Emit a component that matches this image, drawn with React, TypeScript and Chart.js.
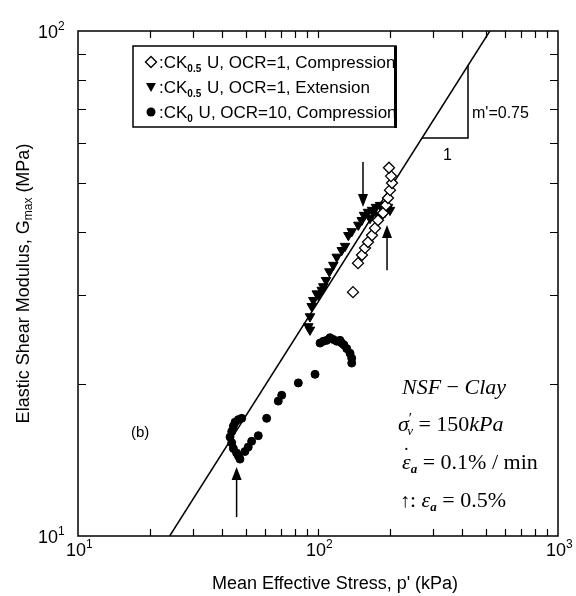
import React, { useEffect, useRef } from 'react';
import { Chart, registerables } from 'chart.js';
Chart.register(...registerables);

// ---- Data (p' in kPa, Gmax in MPa) ----
// CK0.5U, OCR=1, Compression (open diamonds)
const compP = [139.9, 146.8, 152.5, 157.0, 161.6, 167.9, 172.8, 177.8, 186.6, 192.0, 195.7, 199.5, 203.4, 201.5, 197.6];
const compG = [30.4, 34.7, 36.0, 37.2, 38.2, 39.4, 40.7, 42.2, 43.6, 45.2, 46.7, 48.4, 50.0, 51.6, 53.6];
// CK0.5U, OCR=1, Extension (filled down triangles)
const extP = [91.1, 92.6, 92.6, 94.1, 95.6, 98.8, 100.3, 103.6, 105.2, 108.0, 111.5, 115.8, 119.7, 125.6, 129.6, 133.8, 138.2, 147.2, 152.1, 155.5, 161.6, 164.7, 167.9, 174.4, 177.8, 181.3, 188.4, 190.2, 195.7, 199.5];
const extG = [26.0, 25.6, 27.2, 28.5, 29.3, 30.2, 30.0, 30.7, 31.2, 32.1, 33.4, 34.4, 35.7, 36.8, 37.5, 39.4, 40.1, 41.3, 42.2, 43.2, 43.8, 42.6, 44.2, 44.8, 43.2, 45.2, 45.2, 43.8, 44.8, 44.2];
// CK0U, OCR=10, Compression (filled circles)
const ocrP = [45.1, 46.6, 48.1, 44.4, 43.7, 43.0, 43.7, 44.4, 45.8, 46.6, 47.3, 49.6, 51.2, 52.9, 56.4, 61.1, 68.3, 70.6, 82.8, 97.2, 102.0, 105.2, 108.7, 112.2, 115.8, 119.7, 123.5, 125.6, 128.3, 131.7, 136.0, 138.2, 138.2];
const ocrG = [16.8, 17.0, 17.1, 16.5, 16.1, 15.7, 15.3, 14.9, 14.6, 14.4, 14.2, 14.7, 15.0, 15.4, 15.8, 17.1, 18.5, 19.0, 20.1, 20.9, 24.1, 24.3, 24.4, 24.7, 24.5, 24.3, 24.4, 24.1, 23.9, 23.5, 23.0, 22.5, 22.0];
// Fitted line (m' = 0.75) and slope triangle
const lineP = [24.1, 520];
const lineG = [10, 100];
const triP = [271.4, 421.7, 421.7];
const triG = [61.4, 61.4, 85.5];
// Arrows marking eps_a = 0.5%
const arrowP = [154, 193.9, 45.8];
const arrowFromG = [55.0, 33.6, 10.9];
const arrowToG = [44.8, 41.3, 13.7];
// Axis ticks
const xDecades = [10, 100, 1000];
const yDecades = [10, 100];
const xExp = ['1', '2', '3'];
const yExp = ['1', '2'];
const minorMult = [2, 3, 4, 5, 6, 7, 8, 9];

const SANS = '"Liberation Sans", Arial, sans-serif';
const SERIF = '"Liberation Serif", "Times New Roman", serif';

type Seg = { t: string; f: string; dy?: number; dx?: number };
function rich(ctx: CanvasRenderingContext2D, x: number, y: number, segs: Seg[]) {
  let cx = x;
  for (const s of segs) {
    ctx.font = s.f;
    ctx.fillText(s.t, cx + (s.dx || 0), y + (s.dy || 0));
    cx += ctx.measureText(s.t).width + (s.dx || 0);
  }
  return cx;
}
function richWidth(ctx: CanvasRenderingContext2D, segs: Seg[]) {
  let w = 0;
  for (const s of segs) { ctx.font = s.f; w += ctx.measureText(s.t).width + (s.dx || 0); }
  return w;
}

const toPts = (xs: number[], ys: number[]) => xs.map((v, i) => ({ x: v, y: ys[i] }));

export default function App() {
  const ref = useRef<HTMLCanvasElement>(null);
  useEffect(() => {
    const canvas = ref.current!;
    const overlay = {
      id: 'overlay',
      afterDraw(chart: any) {
        const { ctx, chartArea: a, scales } = chart;
        const xs = scales.x, ys = scales.y;
        ctx.save();
        ctx.fillStyle = '#000';
        ctx.strokeStyle = '#000';
        // frame
        ctx.lineWidth = 1.5;
        ctx.strokeRect(a.left, a.top, a.right - a.left, a.bottom - a.top);
        // ticks
        ctx.lineWidth = 1.2;
        ctx.beginPath();
        for (let d = 0; d < xDecades.length - 1; d++) {
          const vals = minorMult.map(m => m * xDecades[d]);
          if (d > 0) vals.unshift(xDecades[d]);
          for (const v of vals) {
            const px = Math.round(xs.getPixelForValue(v)) + 0.5;
            ctx.moveTo(px, a.bottom); ctx.lineTo(px, a.bottom - 7);
            ctx.moveTo(px, a.top); ctx.lineTo(px, a.top + 7);
          }
        }
        for (const m of minorMult) {
          const py = Math.round(ys.getPixelForValue(m * 10)) + 0.5;
          ctx.moveTo(a.left, py); ctx.lineTo(a.left + 8, py);
          ctx.moveTo(a.right, py); ctx.lineTo(a.right - 8, py);
        }
        ctx.stroke();
        // tick labels
        ctx.textAlign = 'left';
        ctx.textBaseline = 'alphabetic';
        xDecades.forEach((v, i) => {
          const px = xs.getPixelForValue(v);
          ctx.font = `18px ${SANS}`;
          const w = ctx.measureText('10').width;
          ctx.fillText('10', px - w / 2 - 2, 556);
          ctx.font = `12px ${SANS}`;
          ctx.fillText(xExp[i], px + w / 2 - 2, 548);
        });
        yDecades.forEach((v, i) => {
          const py = ys.getPixelForValue(v);
          ctx.font = `18px ${SANS}`;
          const w = ctx.measureText('10').width;
          ctx.fillText('10', 58 - w, py + 7);
          ctx.font = `12px ${SANS}`;
          ctx.fillText(yExp[i], 58, py - 1);
        });
        // axis titles
        const xt: Seg[] = [{ t: "Mean Effective Stress, p' (kPa)", f: `18px ${SANS}` }];
        rich(ctx, 335 - richWidth(ctx, xt) / 2, 589, xt);
        const yt: Seg[] = [
          { t: 'Elastic Shear Modulus, G', f: `18px ${SANS}` },
          { t: 'max', f: `12px ${SANS}`, dy: 3 },
          { t: ' (MPa)', f: `18px ${SANS}` },
        ];
        ctx.save();
        ctx.translate(29, (a.top + a.bottom) / 2);
        ctx.rotate(-Math.PI / 2);
        rich(ctx, -richWidth(ctx, yt) / 2, 0, yt);
        ctx.restore();
        // arrows
        ctx.lineWidth = 1.5;
        for (let i = 0; i < arrowP.length; i++) {
          const px = xs.getPixelForValue(arrowP[i]);
          const y1 = ys.getPixelForValue(arrowFromG[i]);
          const y2 = ys.getPixelForValue(arrowToG[i]);
          const dir = Math.sign(y2 - y1);
          const hl = 13, hw = 5;
          ctx.beginPath();
          ctx.moveTo(px, y1); ctx.lineTo(px, y2 - dir * hl);
          ctx.stroke();
          ctx.beginPath();
          ctx.moveTo(px, y2);
          ctx.lineTo(px - hw, y2 - dir * hl);
          ctx.lineTo(px + hw, y2 - dir * hl);
          ctx.closePath();
          ctx.fill();
        }
        // legend box
        ctx.lineWidth = 1.5;
        ctx.strokeRect(133, 46, 263, 81);
        ctx.fillRect(394, 46, 3, 82);
        const lf = `17px ${SANS}`, sf = `bold 10px ${SANS}`;
        const rows: Seg[][] = [
          [{ t: ':CK', f: lf }, { t: '0.5', f: sf, dy: 4 }, { t: ' U, OCR=1, Compression', f: lf, dx: 1 }],
          [{ t: ':CK', f: lf }, { t: '0.5', f: sf, dy: 4 }, { t: ' U, OCR=1, Extension', f: lf, dx: 1 }],
          [{ t: ':CK', f: lf }, { t: '0', f: sf, dy: 4 }, { t: ' U, OCR=10, Compression', f: lf, dx: 1 }],
        ];
        const rowY = [62, 87, 112];
        rows.forEach((r, i) => rich(ctx, 159, rowY[i] + 6, r));
        // legend markers
        const mx = 151;
        ctx.lineWidth = 1.4;
        ctx.beginPath();
        ctx.moveTo(mx, rowY[0] - 5.5); ctx.lineTo(mx + 5.5, rowY[0]); ctx.lineTo(mx, rowY[0] + 5.5); ctx.lineTo(mx - 5.5, rowY[0]); ctx.closePath();
        ctx.fillStyle = '#fff'; ctx.fill(); ctx.stroke();
        ctx.fillStyle = '#000';
        ctx.beginPath();
        ctx.moveTo(mx - 5, rowY[1] - 4); ctx.lineTo(mx + 5, rowY[1] - 4); ctx.lineTo(mx, rowY[1] + 5); ctx.closePath(); ctx.fill();
        ctx.beginPath(); ctx.arc(mx, rowY[2], 4.5, 0, Math.PI * 2); ctx.fill();
        // slope annotation
        ctx.font = `16px ${SANS}`;
        ctx.fillText("m'=0.75", 472, 118);
        ctx.fillText('1', 443, 160);
        // (b)
        ctx.font = `15px ${SANS}`;
        ctx.fillText('(b)', 131, 437);
        // italic block
        const it = `italic 22px ${SERIF}`, up = `22px ${SERIF}`, sm = `italic 13px ${SERIF}`, smb = `italic bold 13px ${SERIF}`;
        rich(ctx, 402, 394, [{ t: 'NSF', f: it }, { t: ' \u2212 ', f: up }, { t: 'Clay', f: it }]);
        rich(ctx, 398, 431, [{ t: '\u03C3', f: it }, { t: '\u2032', f: `15px ${SERIF}`, dy: -8, dx: 0 }, { t: 'v', f: sm, dy: 4, dx: -5 }, { t: ' = 150', f: up }, { t: 'kPa', f: it }]);
        const e1x = 402;
        const endE = rich(ctx, e1x, 469, [{ t: '\u03B5', f: it }]);
        ctx.font = `bold 14px ${SERIF}`;
        ctx.fillText('\u02D9', e1x + 2, 458);
        rich(ctx, endE, 469, [{ t: 'a', f: smb, dy: 4 }, { t: ' = 0.1% / min', f: up }]);
        rich(ctx, 400, 507, [{ t: '\u2191', f: `20px ${SERIF}` }, { t: ': ', f: up }, { t: '\u03B5', f: it }, { t: 'a', f: smb, dy: 4 }, { t: ' = 0.5%', f: up }]);
        ctx.restore();
      },
    };
    const chart = new Chart(canvas, {
      type: 'scatter',
      data: {
        datasets: [
          { label: 'comp', data: toPts(compP, compG), pointStyle: 'rectRot', pointRadius: 5.5, pointBorderColor: '#000', pointBackgroundColor: '#fff', pointBorderWidth: 1.3, order: 1 } as any,
          { label: 'ext', data: toPts(extP, extG), pointStyle: 'triangle', pointRotation: 180, pointRadius: 5.5, pointBorderColor: '#000', pointBackgroundColor: '#000', pointBorderWidth: 1, order: 2 },
          { label: 'ocr', data: toPts(ocrP, ocrG), pointStyle: 'circle', pointRadius: 4, pointBorderColor: '#000', pointBackgroundColor: '#000', pointBorderWidth: 1, order: 3 },
          { label: 'fit', data: toPts(lineP, lineG), showLine: true, pointRadius: 0, borderColor: '#000', borderWidth: 1.5, order: 4 },
          { label: 'slope', data: toPts(triP, triG), showLine: true, pointRadius: 0, borderColor: '#000', borderWidth: 1.5, order: 5 },
        ],
      },
      options: {
        animation: false,
        responsive: false,
        devicePixelRatio: 1,
        events: [],
        layout: { padding: { left: 78, right: 18, top: 31, bottom: 60 } },
        plugins: { legend: { display: false }, tooltip: { enabled: false } },
        scales: {
          x: { type: 'logarithmic', min: 10, max: 1000, display: false },
          y: { type: 'logarithmic', min: 10, max: 100, display: false },
        },
      } as any,
      plugins: [overlay],
    });
    return () => chart.destroy();
  }, []);
  return (
    <div style={{ position: 'absolute', left: 0, top: 0, width: 576, height: 596, background: '#fff' }}>
      <canvas ref={ref} width={576} height={596} style={{ display: 'block' }} />
    </div>
  );
}
